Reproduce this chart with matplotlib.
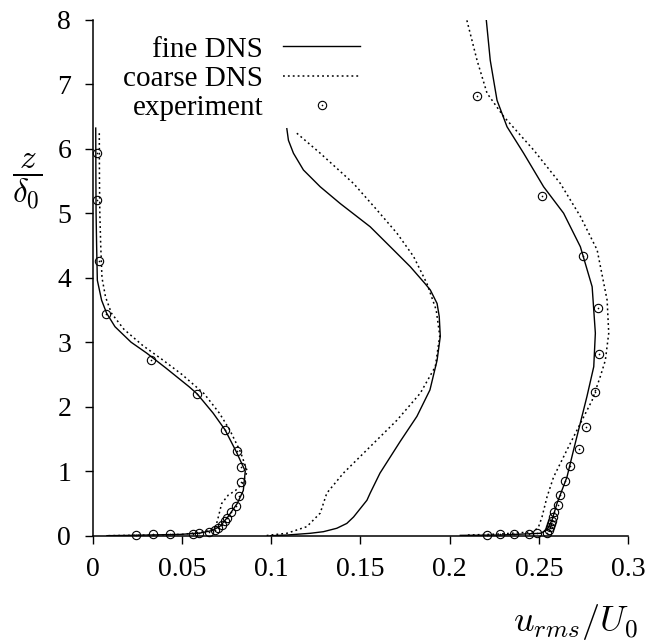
import matplotlib
matplotlib.use("Agg")
import matplotlib.pyplot as plt
from matplotlib.legend_handler import HandlerTuple

plt.rcParams['font.family'] = ['Liberation Serif', 'DejaVu Serif']
plt.rcParams['mathtext.fontset'] = 'cm'

# profile 1 (left)
left_fine_z = [6.32, 5.5, 5.0, 4.5, 3.96, 3.65, 3.45, 3.24, 3.0, 2.83, 2.6, 2.31, 2.2, 1.9, 1.64,
               1.3, 1.0, 0.7, 0.5, 0.3, 0.15, 0.08, 0.04, 0.02, 0.005, 0.0]
left_fine_x = [0.0017, 0.0018, 0.0019, 0.0022, 0.0026, 0.0050, 0.0078, 0.0125, 0.0215, 0.0303, 0.041,
               0.054, 0.0585, 0.0675, 0.0742, 0.0805, 0.0855, 0.0844, 0.081, 0.076, 0.0715, 0.067,
               0.060, 0.049, 0.021, 0.008]
left_coarse_z = [6.24, 5.5, 5.0, 4.5, 4.0, 3.7, 3.45, 3.2, 2.95, 2.72, 2.5, 2.2, 1.9, 1.64, 1.3,
                 1.0, 0.81, 0.7, 0.63, 0.5, 0.3, 0.14, 0.06, 0.02, 0.005, 0.0]
left_coarse_x = [0.0037, 0.0038, 0.0040, 0.0045, 0.0052, 0.0072, 0.0105, 0.0175, 0.028, 0.0395,
                 0.050, 0.0625, 0.071, 0.0768, 0.0828, 0.0866, 0.0840, 0.080, 0.076, 0.0723, 0.0705,
                 0.069, 0.063, 0.050, 0.022, 0.008]
left_exp_x = [0.0024, 0.0024, 0.0035, 0.0075, 0.0327, 0.0586, 0.0744, 0.0809, 0.0832, 0.0832,
              0.0818, 0.0802, 0.0774, 0.0751, 0.0744, 0.0727, 0.0705, 0.0686, 0.0652, 0.0598,
              0.0561, 0.0435, 0.034, 0.0243]
left_exp_z = [5.93, 5.20, 4.26, 3.43, 2.72, 2.20, 1.64, 1.31, 1.06, 0.83, 0.615, 0.465, 0.36,
              0.28, 0.22, 0.165, 0.125, 0.088, 0.057, 0.042, 0.031, 0.026, 0.02, 0.015]

# profile 2 (middle)
mid_fine_z = [6.31, 6.13, 5.93, 5.67, 5.41, 5.15, 4.79, 4.43, 4.17, 3.91, 3.81, 3.60, 3.40, 3.09,
              2.72, 2.26, 1.85, 1.46, 0.97, 0.66, 0.55, 0.29, 0.19, 0.115, 0.062, 0.037, 0.01, 0.0]
mid_fine_x = [0.1088, 0.1097, 0.1125, 0.1181, 0.1275, 0.1387, 0.1555, 0.1686, 0.178, 0.1862,
              0.1892, 0.193, 0.1942, 0.1948, 0.193, 0.189, 0.1817, 0.1723, 0.161, 0.1555, 0.1537,
              0.1462, 0.1424, 0.1368, 0.1293, 0.1219, 0.1088, 0.0995]
mid_coarse_z = [6.24, 5.93, 5.46, 5.05, 4.69, 4.33, 3.91, 3.5, 3.1, 2.62, 2.21, 1.79, 1.38, 0.97,
                0.66, 0.35, 0.14, 0.037, 0.01, 0.0]
mid_coarse_x = [0.1144, 0.1275, 0.1462, 0.1593, 0.1705, 0.1798, 0.1873, 0.1925, 0.1945, 0.192,
                0.1836, 0.1705, 0.1555, 0.1405, 0.1312, 0.1275, 0.12, 0.1088, 0.0995, 0.097]

# profile 3 (right)
right_fine_z = [7.99, 7.37, 6.75, 6.34, 5.93, 5.41, 5.0, 4.48, 3.86, 3.14, 2.62, 2.16, 1.85, 1.33,
                0.91, 0.50, 0.24, 0.09, 0.037, 0.01, 0.005]
right_fine_x = [0.2206, 0.2228, 0.2266, 0.2322, 0.2415, 0.2527, 0.2639, 0.2733, 0.2799, 0.2817,
                0.2808, 0.277, 0.2742, 0.2695, 0.2658, 0.2602, 0.2574, 0.2546, 0.2509, 0.2284,
                0.206]
right_coarse_z = [7.99, 7.37, 6.86, 6.5, 5.98, 5.46, 4.95, 4.43, 3.65, 3.14, 2.72, 2.47, 2.10,
                  1.74, 1.33, 0.91, 0.6, 0.29, 0.14, 0.06, 0.026, 0.01]
right_coarse_x = [0.2097, 0.2154, 0.221, 0.2303, 0.2471, 0.2621, 0.2733, 0.2827, 0.2883, 0.2892,
                  0.2873, 0.2845, 0.2799, 0.2733, 0.2658, 0.2583, 0.2546, 0.2518, 0.2499, 0.2471,
                  0.2284, 0.2097]
right_exp_x = [0.2154, 0.2518, 0.2746, 0.2832, 0.284, 0.2817, 0.2767, 0.2727, 0.2677, 0.2645,
               0.2621, 0.2608, 0.2587, 0.258, 0.2574, 0.2569, 0.2561, 0.2555, 0.2546, 0.249,
               0.2443, 0.2363, 0.228, 0.221]
right_exp_z = [6.81, 5.27, 4.33, 3.53, 2.81, 2.23, 1.69, 1.34, 1.08, 0.85, 0.63, 0.48, 0.37, 0.29,
               0.23, 0.18, 0.13, 0.088, 0.047, 0.037, 0.026, 0.022, 0.022, 0.016]

xticks = [0, 0.05, 0.1, 0.15, 0.2, 0.25, 0.3]
xticklabels = ['0', '0.05', '0.1', '0.15', '0.2', '0.25', '0.3']
yticks = [0, 1, 2, 3, 4, 5, 6, 7, 8]

fig = plt.figure(figsize=(6.64, 6.42), dpi=100)
ax = fig.add_axes([0.1396, 0.1656, 0.8062, 0.8037])

solid = dict(color='black', lw=1.0, linestyle='-')
dotted = dict(color='black', lw=1.1, linestyle=(0, (1.2, 2.0)))
circ = dict(linestyle='none', marker='o', ms=6, mfc='none', mec='black', mew=0.8, clip_on=False)
dot = dict(linestyle='none', marker='o', ms=1.2, mfc='black', mec='black', mew=0, clip_on=False)

h_fine, = ax.plot(left_fine_x, left_fine_z, **solid)
ax.plot(mid_fine_x, mid_fine_z, **solid)
ax.plot(right_fine_x, right_fine_z, **solid)
h_coarse, = ax.plot(left_coarse_x, left_coarse_z, **dotted)
ax.plot(mid_coarse_x, mid_coarse_z, **dotted)
ax.plot(right_coarse_x, right_coarse_z, **dotted)
h_circ, = ax.plot(left_exp_x, left_exp_z, **circ)
h_dot, = ax.plot(left_exp_x, left_exp_z, **dot)
ax.plot(right_exp_x, right_exp_z, **circ)
ax.plot(right_exp_x, right_exp_z, **dot)

ax.set_xlim(0, 0.3)
ax.set_ylim(0, 8)
ax.set_xticks(xticks)
ax.set_xticklabels(xticklabels)
ax.set_yticks(yticks)
ax.tick_params(direction='out', length=5.5, width=1.0, labelsize=20, pad=10)
for s in ['top', 'right']:
    ax.spines[s].set_visible(False)
for s in ['left', 'bottom']:
    ax.spines[s].set_linewidth(1.1)

leg = ax.legend([h_fine, h_coarse, (h_circ, h_dot)], ['fine DNS', 'coarse DNS', 'experiment'],
                handler_map={tuple: HandlerTuple(ndivide=1)},
                loc='upper right', bbox_to_anchor=(0.50, 0.968), borderaxespad=0, borderpad=0,
                frameon=False, markerfirst=False, fontsize=21, handlelength=2.64,
                handletextpad=0.69, labelspacing=0.1)

ax.text(-0.123, 0.687, r'$\dfrac{z}{\delta_0}$', transform=ax.transAxes,
        ha='center', va='center', fontsize=24)
ax.text(1.019, -0.167, r'$u_{rms}/U_0$', transform=ax.transAxes,
        ha='right', va='center', fontsize=26)

fig.savefig('out.png', dpi=100)
